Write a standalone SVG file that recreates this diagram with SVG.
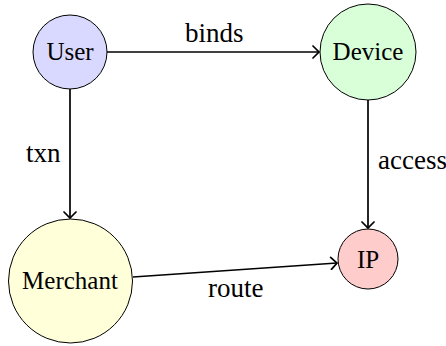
<svg xmlns="http://www.w3.org/2000/svg" width="446" height="346" viewBox="0 0 446 346">
  <style>
    .node { stroke: #000; stroke-width: 1; }
    .edge { stroke: #000; stroke-width: 1.7; fill: none; marker-end: url(#arrow); }
  </style>
  <defs>
    <marker id="arrow" viewBox="-10 -7 12 14" markerWidth="12" markerHeight="14" refX="0" refY="0" orient="auto" markerUnits="userSpaceOnUse">
      <path d="M -6 -6 Q -1.5 -1.5 0 0 Q -1.5 1.5 -6 6" fill="none" stroke="#000" stroke-width="1.7" stroke-linecap="round"/>
    </marker>
  </defs>
  <rect width="446" height="346" fill="#fff"/>

  <!-- connectors and their labels -->
  <g id="edges">
    <line class="edge" x1="107" y1="52" x2="319" y2="52"/>
    <line class="edge" x1="70" y1="89" x2="70" y2="218"/>
    <line class="edge" x1="368" y1="100" x2="368" y2="228"/>
    <line class="edge" x1="133" y1="277" x2="337" y2="263"/>
    <text x="185" y="42" font-family="Liberation Serif, serif" font-size="27">binds</text>
    <text x="26" y="162" font-family="Liberation Serif, serif" font-size="27">txn</text>
    <text x="378" y="169" font-family="Liberation Serif, serif" font-size="27">access</text>
    <text x="208" y="297" font-family="Liberation Serif, serif" font-size="27">route</text>
  </g>

  <g id="user">
    <circle class="node" cx="70" cy="52" r="37" fill="#d9d9ff"/>
    <text x="46.4" y="60" font-family="Liberation Serif, serif" font-size="25">User</text>
  </g>
  <g id="device">
    <circle class="node" cx="368" cy="52" r="48" fill="#d9ffd9"/>
    <text x="332.6" y="60" font-family="Liberation Serif, serif" font-size="25">Device</text>
  </g>
  <g id="merchant">
    <circle class="node" cx="70.5" cy="281" r="62" fill="#ffffd9"/>
    <text x="22.1" y="289" font-family="Liberation Serif, serif" font-size="25">Merchant</text>
  </g>
  <g id="ip">
    <circle class="node" cx="368" cy="259" r="30" fill="#ffcccc"/>
    <text x="356.9" y="268" font-family="Liberation Serif, serif" font-size="25">IP</text>
  </g>
</svg>
